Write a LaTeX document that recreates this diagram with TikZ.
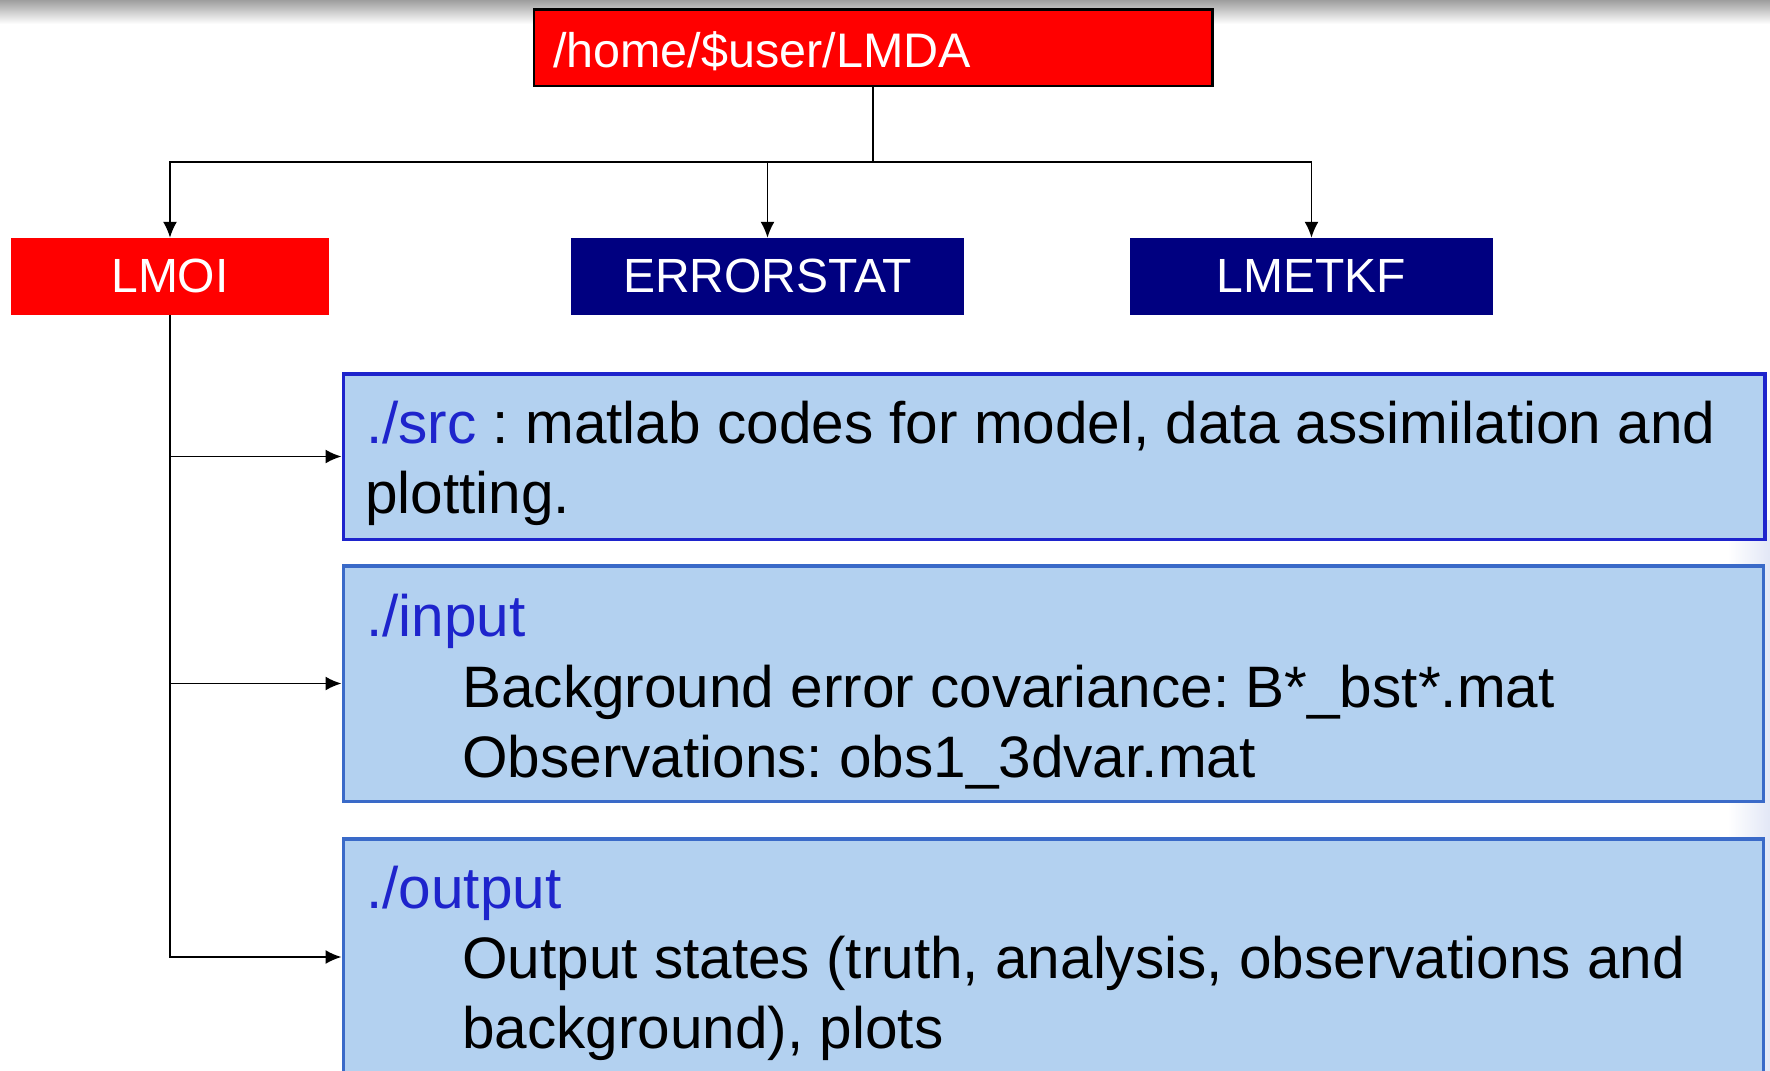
\documentclass[tikz,border=0pt]{standalone}
\usepackage{fontspec}
\setmainfont{Liberation Sans}
\usetikzlibrary{arrows.meta}

\definecolor{rootred}{RGB}{255,0,0}
\definecolor{navyblue}{RGB}{0,0,128}
\definecolor{panelfill}{RGB}{179,209,240}
\definecolor{srcedge}{RGB}{30,36,204}
\definecolor{panedge}{RGB}{58,106,200}
\definecolor{dirblue}{RGB}{30,36,204}
\definecolor{edgehaze}{RGB}{226,231,246}

\begin{document}
\frenchspacing
\begin{tikzpicture}[x=1pt,y=-1pt,
  conn/.style={line width=1.8pt, black},
  arr/.style={conn, -{Latex[length=16pt,width=14pt]}},
  boxlabel/.style={inner sep=0pt, text=white, font=\fontsize{48}{56}\selectfont},
  rootbox/.style={boxlabel, draw=black, line width=2.5pt, fill=rootred},
  redbox/.style={boxlabel, fill=rootred},
  navybox/.style={boxlabel, fill=navyblue},
  panel/.style={fill=panelfill, line width=3.5pt, inner sep=0pt},
  paneltext/.style={inner sep=0pt, anchor=base west, text=black,
    font=\fontsize{58.5}{70}\selectfont},
]
\clip (0,0) rectangle (1770,1071);

% soft shadow along the top edge and faint haze on the right edge
\shade[top color=black!38, bottom color=white] (0,0) rectangle (1770,24);
\shade[left color=white, right color=edgehaze] (1728,520) rectangle (1770,1071);

% directory boxes
\node[rootbox, minimum width=678.5pt, minimum height=76.5pt,
  text width=640pt, align=left, inner xsep=19.25pt, text height=39pt, text depth=0pt,
  font=\fontsize{48.5}{56}\selectfont]
  (root) at (873,47.5) {/home/\$user/LMDA};
\node[redbox, minimum width=318pt, minimum height=76.5pt] (lmoi) at (170,276.25) {LMOI};
\node[navybox, minimum width=393pt, minimum height=76.5pt] (errstat) at (767.5,276.25) {ERRORSTAT};
\node[navybox, minimum width=363pt, minimum height=76.5pt] (lmetkf) at (1311.5,276.25) {LMETKF};

% sub-directory panels
\node[panel, draw=srcedge, minimum width=1421.5pt, minimum height=165.5pt] (src) at (1054,456.5) {};
\node[panel, draw=panedge, minimum width=1420pt, minimum height=235.5pt] (input) at (1053.25,683.5) {};
\node[panel, draw=panedge, minimum width=1420pt, minimum height=236.5pt] (output) at (1053.25,957) {};

% panel contents
\node[paneltext] (src1) at (366,443) {\textcolor{dirblue}{./src} : matlab codes for model, data assimilation and};
\node[paneltext] (src2) at (365,513) {plotting.};
\node[paneltext] (in1) at (366,636) {\textcolor{dirblue}{./input}};
\node[paneltext] (in2) at (462,707) {Background error covariance: B*\_bst*.mat};
\node[paneltext] (in3) at (462,777) {Observations: obs1\_3dvar.mat};
\node[paneltext] (out1) at (366,908) {\textcolor{dirblue}{./output}};
\node[paneltext] (out2) at (462,978) {Output states (truth, analysis, observations and};
\node[paneltext] (out3) at (462,1048) {background), plots};

% tree connectors
\coordinate (hub) at (873,162);
\draw[conn] (root.south) -- (hub);
\draw[arr] (hub) -| (lmoi.north);
\draw[arr] (hub) -| (lmetkf.north);
\draw[arr] (hub -| errstat.north) -- (errstat.north);

\draw[arr] (lmoi.south) |- (output.west);
\draw[arr] (lmoi.south |- src.west) -- (src.west);
\draw[arr] (lmoi.south |- input.west) -- (input.west);
\end{tikzpicture}
\end{document}
